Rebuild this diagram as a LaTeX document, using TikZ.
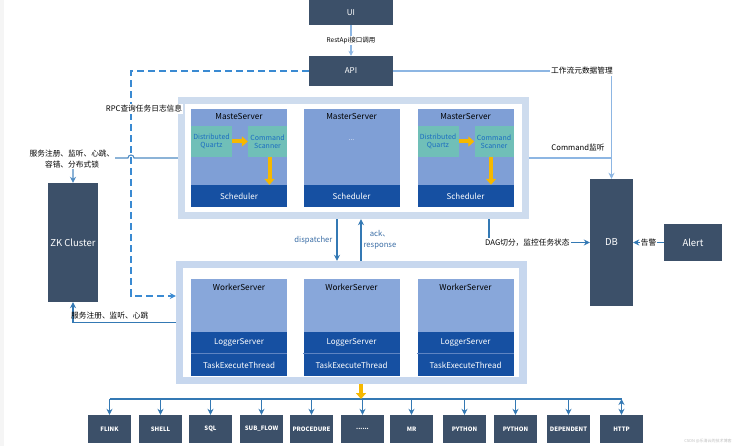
\documentclass[tikz,border=0pt]{standalone}
\usepackage{fontspec}
\setmainfont{Noto Sans CJK SC}
\usepackage{tikz}
\usetikzlibrary{arrows.meta,positioning}

\definecolor{slate}{HTML}{3C5069}
\definecolor{panelblue}{HTML}{CEDCEE}
\definecolor{workpanel}{HTML}{C7D7EE}
\definecolor{srvblue}{HTML}{7F9FD6}
\definecolor{wrkblue}{HTML}{88A7DA}
\definecolor{bandblue}{HTML}{1650A2}
\definecolor{bandsep}{HTML}{5E84C2}
\definecolor{quartzteal}{HTML}{70BFB8}
\definecolor{quartztext}{HTML}{1B6DC1}
\definecolor{flowyellow}{HTML}{F6B800}
\definecolor{linkblue}{HTML}{3479B4}
\definecolor{paleline}{HTML}{8DB6E3}
\definecolor{dashblue}{HTML}{3A8AD2}
\definecolor{labelblue}{HTML}{3B6EA6}

\begin{document}
\begin{tikzpicture}
		[x=1pt,y=-1pt,
		dark node/.style={shape=rectangle,fill=slate,text=white,inner sep=0pt,font=\fontsize{8}{10}\selectfont},
		big node/.style={dark node,font=\fontsize{9.5}{11}\selectfont},
		task node/.style={dark node,minimum width=43pt,minimum height=28pt,font=\fontsize{6}{7}\selectfont\bfseries},
		panel node/.style={shape=rectangle,fill=panelblue,inner sep=0pt},
		server node/.style={shape=rectangle,fill=srvblue,inner sep=0pt,minimum width=96pt,minimum height=98pt},
		worker node/.style={shape=rectangle,fill=wrkblue,inner sep=0pt,minimum width=96pt,minimum height=97pt},
		band node/.style={shape=rectangle,fill=bandblue,text=white,inner sep=0pt,minimum width=96pt,minimum height=22pt,font=\fontsize{8}{10}\selectfont},
		quartz node/.style={shape=rectangle,fill=quartzteal,text=quartztext,inner sep=0pt,minimum width=41pt,minimum height=31pt,align=center,font=\fontsize{7}{8}\selectfont},
		title node/.style={text=black,inner sep=0pt,font=\fontsize{8.2}{10}\selectfont},
		tag/.style={fill=white,inner sep=1pt,font=\fontsize{7.7}{11}\selectfont},
		blue tag/.style={text=labelblue,inner sep=1pt,font=\fontsize{7.7}{11}\selectfont},
		link line/.style={draw=linkblue,line width=1.1pt,-{Stealth[length=6pt,width=6pt]}},
		pale line/.style={draw=paleline,line width=1.1pt},
		yellow arrow/.style={draw=flowyellow,line width=4pt,-{Triangle[length=6pt,width=10pt]}}]
		
		\useasboundingbox[fill=white] (0,0) rectangle (738,446);
		\fill[black!4] (0,0) rectangle (4,446);
		
		% top
		\node [dark node,minimum width=84pt,minimum height=25pt] (ui) at (351,12.5) {UI};
		\node [dark node,minimum width=84pt,minimum height=30pt] (api) at (351,71) {API};
		
		% masters
		\node [panel node,minimum width=351pt,minimum height=122pt] (mpanel) at (353.5,158) {};
		\node [fill=white,inner sep=0pt,minimum width=337pt,minimum height=108pt] at (353.5,158) {};
		\node [server node] (m1) at (239,158) {};
		\node [server node] (m2) at (351.5,158) {};
		\node [server node] (m3) at (465.5,158) {};
		\node [title node] at ([yshift=-8pt]m1.north) {MasteServer};
		\node [title node] at ([yshift=-8pt]m2.north) {MasterServer};
		\node [title node] at ([yshift=-8pt]m3.north) {MasterServer};
		\node [band node,anchor=south] (s1) at (m1.south) {Scheduler};
		\node [band node,anchor=south] (s2) at (m2.south) {Scheduler};
		\node [band node,anchor=south] (s3) at (m3.south) {Scheduler};
		\node [text=white,font=\fontsize{7}{8}\selectfont] at (351.5,140) {...};
		\node [quartz node,anchor=north west] (q1) at ([yshift=-17pt]m1.north west) {Distributed\\Quartz};
		\node [quartz node,anchor=north east,minimum width=39pt] (c1) at ([yshift=-17pt]m1.north east) {Command\\Scanner};
		\node [quartz node,anchor=north west] (q3) at ([yshift=-17pt]m3.north west) {Distributed\\Quartz};
		\node [quartz node,anchor=north east,minimum width=39pt] (c3) at ([yshift=-17pt]m3.north east) {Command\\Scanner};
		
		\draw[yellow arrow] (q1) -- (c1);
		\draw[yellow arrow] ([xshift=2pt]c1.south) -- ([xshift=2pt]c1.south |- s1.north);
		\draw[yellow arrow] (q3) -- (c3);
		\draw[yellow arrow] ([xshift=-3pt]c3.south) -- ([xshift=-3pt]c3.south |- s3.north);
		
		% workers
		\node [panel node,fill=workpanel,minimum width=351pt,minimum height=123pt] (wpanel) at (351.5,322.5) {};
		\node [fill=white,inner sep=0pt,minimum width=336pt,minimum height=109pt] at (351,322.5) {};
		\node [worker node] (w1) at (239,327.5) {};
		\node [worker node] (w2) at (351.5,327.5) {};
		\node [worker node] (w3) at (465.5,327.5) {};
		\node [title node] at ([yshift=-8pt]w1.north) {WorkerServer};
		\node [title node] at ([yshift=-8pt]w2.north) {WorkerServer};
		\node [title node] at ([yshift=-8pt]w3.north) {WorkerServer};
		\node [band node,anchor=south] (e1) at (w1.south) {TaskExecuteThread};
		\node [band node,anchor=south] (e2) at (w2.south) {TaskExecuteThread};
		\node [band node,anchor=south] (e3) at (w3.south) {TaskExecuteThread};
		\node [band node,anchor=south] (l1) at (e1.north) {LoggerServer};
		\node [band node,anchor=south] (l2) at (e2.north) {LoggerServer};
		\node [band node,anchor=south] (l3) at (e3.north) {LoggerServer};
		\draw[bandsep,line width=0.8pt] (l1.south west) -- (l1.south east);
		\draw[bandsep,line width=0.8pt] (l2.south west) -- (l2.south east);
		\draw[bandsep,line width=0.8pt] (l3.south west) -- (l3.south east);
		
		% side boxes
		\node [big node,minimum width=50pt,minimum height=119pt] (zk) at (73,242.5) {ZK Cluster};
		\node [big node,minimum width=43pt,minimum height=127pt] (db) at (611.5,242.5) {DB};
		\node [big node,minimum width=58pt,minimum height=37pt] (alert) at (693,242.5) {Alert};
		
		% tasks
		\node [task node] (t1) at (109.5,429) {FLINK};
		\node [task node] (t2) at (160.5,429) {SHELL};
		\node [task node] (t3) at (210.5,429) {SQL};
		\node [task node] (t4) at (261.5,429) {SUB\_FLOW};
		\node [task node] (t5) at (311.5,429) {PROCEDURE};
		\node [task node] (t6) at (362.5,429) {......};
		\node [task node] (t7) at (411.5,429) {MR};
		\node [task node] (t8) at (464.5,429) {PYTHON};
		\node [task node] (t9) at (515.5,429) {PYTHON};
		\node [task node] (t10) at (568.5,429) {DEPENDENT};
		\node [task node] (t11) at (621.5,429) {HTTP};
		\coordinate (bus) at (0,399);
		
		\draw[linkblue,line width=1.1pt] (t1 |- bus) -- (t11 |- bus);
		\path[link line]
		(t1 |- bus) edge (t1)
		(t2 |- bus) edge (t2)
		(t3 |- bus) edge (t3)
		(t4 |- bus) edge (t4)
		(t5 |- bus) edge (t5)
		(t6 |- bus) edge (t6)
		(t7 |- bus) edge (t7)
		(t8 |- bus) edge (t8)
		(t9 |- bus) edge (t9)
		(t10 |- bus) edge (t10)
		(t11 |- bus) edge (t11)
		;
		\draw[yellow arrow] ([xshift=9.5pt]wpanel.south) -- ([xshift=9.5pt]wpanel.south |- bus);
		
		% connectors
		\draw[pale line,-{Stealth[length=5pt,width=5pt]}] (ui) -- (api)
		node[midway,tag,font=\fontsize{6.5}{8}\selectfont] {RestApi接口调用};
		\draw[pale line,-{Stealth[length=6pt,width=6pt]}] (api) -- (api -| db) -- (db);
		\node [tag] at (582,71) {工作流元数据管理};
		\draw[pale line] (mpanel.east) -- (mpanel.east -| db);
		\node [tag,fill=none] at (578,148) {Command监听};
		
		\coordinate (rpcbend) at (131,296);
		\draw[draw=dashblue,line width=1.1pt,dash pattern=on 7pt off 4pt,-{Stealth[length=6pt,width=6pt]}]
		(api.west) -| (rpcbend) -- (rpcbend -| wpanel.west);
		\node [tag] at (144,109) {RPC查询任务日志信息};
		
		\draw[link line,draw=linkblue!70!paleline] (mpanel.west) -- (134,158) arc[start angle=0,end angle=180,radius=3pt]
		-- (zk.north |- mpanel.west) -- (zk.north);
		\node [tag,align=center] at (72,159) {服务注册、监听、心跳、\\容错、分布式锁};
		
		\draw[link line] (wpanel.west) -- (wpanel.west -| zk) -- (zk);
		\node [tag,fill=none,anchor=west] at (70,316) {服务注册、监听、心跳};
		
		\draw[link line] ([xshift=-16.5pt]mpanel.south) -- ([xshift=-14.5pt]wpanel.north)
		node[midway,left=3pt,blue tag] {dispatcher};
		\draw[link line] ([xshift=9.5pt]wpanel.north) -- ([xshift=7.5pt]mpanel.south)
		node[midway,right=1pt,blue tag,align=center] {ack、\\response};
		
		\draw[link line] ([xshift=135.5pt]mpanel.south) |- (db.west);
		\node [tag,anchor=west] at (484,242.5) {DAG切分，监控任务状态};
		\draw[link line] (alert) -- (db) node[midway,tag] {告警};
		
		\node [text=black!25,font=\fontsize{4}{5}\selectfont] at (708,441) {CSDN @乐清云的技术博客};
		
		\end{tikzpicture}
\end{document}
